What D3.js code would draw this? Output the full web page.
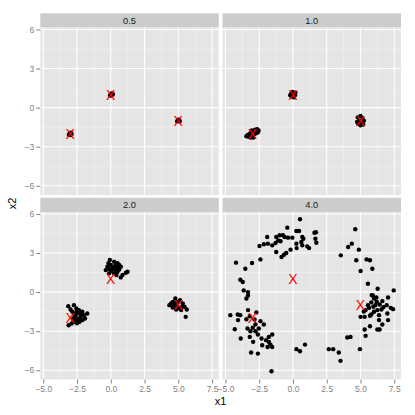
<!DOCTYPE html>
<html>
<head>
<meta charset="utf-8">
<script src="https://cdn.jsdelivr.net/npm/d3@7"></script>
<style>
  body { margin: 0; background: #fff; }
  svg text { font-family: "Liberation Sans", Arial, sans-serif; }
  .axis .domain { display: none; }
  .axis line { stroke: #7f7f7f; }
  .axis text { fill: #7f7f7f; font-size: 8.5px; }
</style>
</head>
<body>
<svg id="plate" width="415" height="415"></svg>
<script>
// facet labels
var facets = ['0.5', '1.0', '2.0', '4.0'];

// cluster centres (red X)
var centerX = [-3, 0, 5];
var centerY = [-2, 1, -1];

// points per facet, [x1, x2]
var pts05 = [
    [-3.05, -2.0], [-2.95, -1.92], [-3.1, -2.08], [-2.9, -2.02], [-3.0, -2.1], [-3.02, -1.95],
    [0.1, 1.0], [0.15, 1.05], [-0.05, 0.95], [0.05, 1.08], [0.0, 0.92], [0.12, 0.98],
    [4.95, -1.0], [5.05, -0.95], [5.1, -1.05], [4.92, -1.06], [5.0, -0.92], [5.08, -1.0]
];
var pts10 = [
    [-3.35, -2.1], [-3.25, -2.25], [-3.1, -1.95], [-3.0, -2.15], [-2.9, -1.85], [-2.8, -1.7],
    [-2.65, -1.65], [-2.55, -1.75], [-2.7, -1.95], [-2.95, -2.3], [-3.15, -2.3], [-3.45, -2.2],
    [-2.85, -2.05], [-3.05, -1.75], [-2.6, -1.9], [-3.2, -2.0], [-2.75, -1.8],
    [-0.15, 1.05], [0.1, 1.1], [0.15, 0.95], [-0.1, 0.85], [0.05, 0.8], [-0.05, 1.2], [0.18, 1.15], [-0.2, 0.95],
    [4.8, -0.75], [5.0, -0.65], [5.15, -0.8], [4.9, -1.0], [5.1, -1.1], [5.25, -1.0], [4.85, -1.25],
    [5.0, -1.35], [5.2, -1.3], [4.75, -1.1]
];
var pts20 = [
    [-3.15, -1.08], [-2.73, -1.0], [-2.55, -1.26], [-2.36, -1.38], [-2.11, -1.51], [-1.74, -1.64],
    [-2.85, -1.51], [-2.6, -1.77], [-2.23, -1.9], [-1.99, -1.77], [-2.48, -2.15], [-2.9, -2.41],
    [-2.31, -2.28], [-2.65, -2.03], [-2.98, -1.33], [-1.91, -2.03], [-3.12, -2.54], [-2.75, -2.3],
    [-2.4, -1.6], [-2.1, -2.15], [-2.55, -1.55], [-2.7, -1.8], [-2.35, -2.0], [-2.2, -1.7],
    [-2.8, -2.05], [-2.5, -2.4],
    [-0.07, 2.46], [0.25, 2.33], [0.5, 2.21], [0.62, 2.08], [-0.25, 1.95], [-0.37, 1.69],
    [0.12, 1.82], [0.37, 1.69], [0.74, 1.95], [-0.12, 1.44], [0.25, 1.44], [0.5, 1.56],
    [1.12, 1.49], [1.24, 1.56], [0.74, 1.13], [0.87, 1.31], [0.0, 2.08], [0.32, 2.0],
    [0.07, 1.64], [0.62, 1.74], [-0.17, 2.21], [0.42, 1.31], [0.2, 1.9], [-0.1, 1.75],
    [0.45, 1.9],
    [4.78, -0.49], [4.46, -0.87], [4.71, -1.0], [5.13, -0.62], [5.33, -0.87], [5.46, -1.13],
    [4.84, -1.33], [5.21, -1.38], [4.59, -1.18], [4.34, -1.0], [5.55, -1.9], [4.97, -1.13],
    [5.63, -1.33], [5.0, -0.75], [5.1, -1.25], [4.85, -0.8], [5.3, -1.1], [4.6, -0.75]
];
var pts40 = [
    // upper arc
    [0.52, 5.59], [-0.42, 4.95], [0.25, 4.69], [0.45, 4.69], [0.69, 4.23], [0.77, 4.1],
    [-1.91, 4.23], [-1.24, 4.23], [-0.99, 4.36], [-0.74, 4.36], [-0.62, 4.23], [-0.37, 4.18],
    [-0.05, 4.18], [-1.09, 3.97], [-0.92, 3.9], [-1.29, 3.77], [-1.54, 3.59], [0.25, 3.72],
    [0.62, 3.85], [-2.48, 3.54], [-2.16, 3.67], [-1.86, 3.72], [0.27, 3.38], [0.69, 3.59],
    [1.06, 3.51], [1.19, 3.38], [-1.24, 3.08], [-0.18, 3.26], [-0.5, 3.0], [-0.67, 2.87],
    [-0.85, 2.69], [-2.41, 2.51], [-3.03, 2.23], [-3.53, 1.79], [-4.22, 2.26], [-3.9, 0.95],
    [-3.72, 0.77], [-3.65, 0.13], [-3.33, 0.0], [-3.33, -0.26],
    [1.59, 4.56], [1.66, 4.1], [1.73, 3.79], [1.7, 4.6],
    // upper right
    [4.61, 4.82], [4.36, 3.72], [4.09, 3.46], [4.88, 3.26], [3.54, 2.82], [4.69, 2.44],
    [5.45, 2.51], [5.7, 2.44], [5.01, 1.62], [5.88, 1.79], [5.55, 0.64], [6.27, 0.26],
    [7.46, 0.13], [5.92, -0.26], [7.04, -0.41],
    // left cluster
    [-3.45, -0.49], [-4.64, -1.77], [-4.09, -1.72], [-3.9, -1.77], [-4.07, -2.15], [-3.33, -1.38],
    [-3.45, -2.08], [-2.71, -1.56], [-2.41, -2.23], [-2.16, -2.49], [-2.78, -2.49], [-2.98, -2.74],
    [-3.37, -2.79], [-4.31, -2.85], [-3.15, -3.0], [-2.78, -3.0], [-2.53, -2.79], [-2.6, -3.26],
    [-3.2, -3.44], [-3.87, -3.56], [-2.33, -3.56], [-2.95, -3.82], [-1.99, -3.69], [-1.79, -3.44],
    [-1.54, -3.26], [-1.79, -3.82], [-1.67, -4.03], [-1.54, -4.21], [-2.28, -4.08], [-1.88, -4.21],
    [-3.1, -4.64], [-2.6, -4.72], [-1.59, -6.08], [-3.2, -1.85], [-2.85, -2.1],
    // bottom scatter
    [0.25, -4.38], [0.52, -4.54], [0.89, -4.03], [2.65, -4.38], [2.98, -4.38], [3.39, -4.64],
    [3.52, -5.28], [4.96, -4.38], [4.02, -3.49], [4.26, -3.44], [5.38, -3.36],
    // right cluster
    [6.0, -0.49], [6.62, -0.69], [6.2, -0.74], [5.8, -0.79], [6.42, -0.95], [5.95, -1.13],
    [5.63, -1.21], [6.25, -1.38], [6.55, -1.33], [6.94, -1.0], [7.24, -1.21], [7.41, -1.31],
    [6.99, -1.64], [6.0, -1.51], [5.8, -1.72], [5.38, -1.38], [5.25, -1.49], [5.01, -1.9],
    [5.31, -1.9], [5.7, -1.82], [6.37, -1.77], [7.04, -2.15], [6.37, -2.15], [6.62, -2.49],
    [5.7, -2.62], [6.25, -2.87], [6.42, -2.87], [5.31, -2.87], [5.83, -0.23], [6.18, -0.41],
    [6.1, -1.0], [6.7, -1.15], [5.55, -1.0]
];
var facetPts = [pts05, pts10, pts20, pts40];

// tick values and labels
var xTicks = [-5, -2.5, 0, 2.5, 5, 7.5];
var xTickLabels = ['\u22125.0', '\u22122.5', '0.0', '2.5', '5.0', '7.5'];
var xMinor = [-3.75, -1.25, 1.25, 3.75, 6.25];
var yTicks = [-6, -3, 0, 3, 6];
var yTickLabels = ['\u22126', '\u22123', '0', '3', '6'];
var yMinor = [-4.5, -1.5, 1.5, 4.5];

var svg = d3.select('#plate');

// layout
var panelW = 178.5, panelH = 167.5, stripH = 14.2;
var colLeft = [40.3, 222.5];
var rowTop = [27.5, 212];

var x = d3.scaleLinear().domain([-5.22, 8.0]).range([0, panelW]);
var y = d3.scaleLinear().domain([-6.71, 6.15]).range([panelH, 0]);

facets.forEach(function (label, i) {
    var col = i % 2, row = Math.floor(i / 2);
    var g = svg.append('g')
        .attr('transform', 'translate(' + colLeft[col] + ',' + rowTop[row] + ')');

    // strip
    g.append('rect')
        .attr('x', 0).attr('y', -stripH)
        .attr('width', panelW).attr('height', stripH)
        .attr('fill', '#cccccc');
    g.append('text')
        .attr('x', panelW / 2).attr('y', -stripH / 2)
        .attr('dy', '0.35em')
        .attr('text-anchor', 'middle')
        .attr('font-size', '9.3px')
        .attr('fill', '#1a1a1a')
        .text(label);

    // panel background
    g.append('rect')
        .attr('width', panelW).attr('height', panelH)
        .attr('fill', '#e5e5e5');

    // minor grid
    g.selectAll('.xminor').data(xMinor).enter().append('line')
        .attr('x1', (d) => x(d)).attr('x2', (d) => x(d))
        .attr('y1', 0).attr('y2', panelH)
        .attr('stroke', '#f2f2f2').attr('stroke-width', 0.6);
    g.selectAll('.yminor').data(yMinor).enter().append('line')
        .attr('y1', (d) => y(d)).attr('y2', (d) => y(d))
        .attr('x1', 0).attr('x2', panelW)
        .attr('stroke', '#f2f2f2').attr('stroke-width', 0.6);

    // major grid
    g.selectAll('.xmajor').data(xTicks).enter().append('line')
        .attr('x1', (d) => x(d)).attr('x2', (d) => x(d))
        .attr('y1', 0).attr('y2', panelH)
        .attr('stroke', '#ffffff').attr('stroke-width', 1.1);
    g.selectAll('.ymajor').data(yTicks).enter().append('line')
        .attr('y1', (d) => y(d)).attr('y2', (d) => y(d))
        .attr('x1', 0).attr('x2', panelW)
        .attr('stroke', '#ffffff').attr('stroke-width', 1.1);

    // points
    g.selectAll('circle').data(facetPts[i]).enter().append('circle')
        .attr('cx', (d) => x(d[0]))
        .attr('cy', (d) => y(d[1]))
        .attr('r', 2.2)
        .attr('fill', '#000');

    // centres
    g.selectAll('.centre').data(centerX).enter().append('text')
        .attr('class', 'centre')
        .attr('x', (d) => x(d))
        .attr('y', (d, j) => y(centerY[j]))
        .attr('dy', '0.36em')
        .attr('text-anchor', 'middle')
        .attr('font-size', '14px')
        .attr('fill', '#ff0000')
        .text('X');

    // axes
    if (col === 0) {
        g.append('g')
            .attr('class', 'axis')
            .call(d3.axisLeft(y).tickValues(yTicks).tickSize(4).tickPadding(2)
                .tickFormat((d, j) => yTickLabels[j]));
    }
    if (row === 1) {
        g.append('g')
            .attr('class', 'axis')
            .attr('transform', 'translate(0,' + panelH + ')')
            .call(d3.axisBottom(x).tickValues(xTicks).tickSize(4).tickPadding(2)
                .tickFormat((d, j) => xTickLabels[j]));
    }
});

// axis titles
svg.append('text')
    .attr('x', (colLeft[0] + colLeft[1] + panelW) / 2)
    .attr('y', 405)
    .attr('text-anchor', 'middle')
    .attr('font-size', '11px')
    .attr('fill', '#000')
    .text('x1');

svg.append('text')
    .attr('transform', 'translate(16,' + (rowTop[0] + rowTop[1] + panelH) / 2 + ') rotate(-90)')
    .attr('text-anchor', 'middle')
    .attr('font-size', '11px')
    .attr('fill', '#000')
    .text('x2');
</script>
</body>
</html>
